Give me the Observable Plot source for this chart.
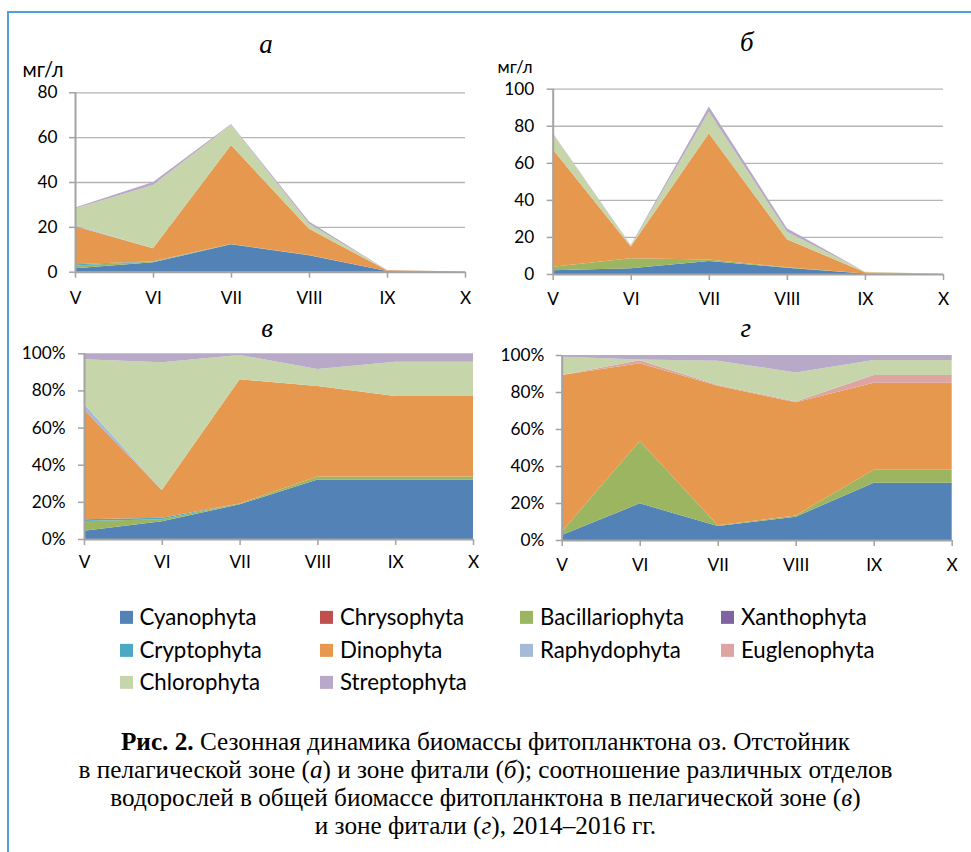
<!DOCTYPE html>
<html>
<head>
<meta charset="utf-8">
<script src="https://cdn.jsdelivr.net/npm/d3@7"></script>
<script src="https://cdn.jsdelivr.net/npm/@observablehq/plot@0.6"></script>
<style>
  html, body { margin: 0; padding: 0; background: #fff; }
  #page { position: relative; width: 971px; height: 852px; overflow: hidden; background: #fff; font-family: Lato, "Open Sans", sans-serif; color: #000; }
  .frame { position: absolute; left: 7px; top: 11px; right: -4px; bottom: -4px; border-left: 2px solid #4d9fe0; border-top: 2px solid #4d9fe0; }
  .abs { position: absolute; white-space: nowrap; }
  .ptitle { font-family: "Liberation Serif", "DejaVu Serif", serif; font-style: italic; font-size: 27px; transform: translate(-50%, -50%); line-height: 1; }
  .unit { transform: translateY(-50%); line-height: 1; }
  .leg { position: absolute; display: flex; align-items: center; transform: translateY(-50%); white-space: nowrap; }
  .sw { width: 13px; height: 13px; display: inline-block; }
  .cap { position: absolute; left: 0; width: 971px; text-align: center; font-family: "Liberation Serif", "DejaVu Serif", serif; white-space: nowrap; transform: translateY(-50%); line-height: 1; }
  .chart svg { overflow: visible; }
</style>
</head>
<body>
<div id="page">
  <div class="frame"></div>
</div>
<script>
// ---------- data ----------
const months = ["V", "VI", "VII", "VIII", "IX", "X"];
const groups = ["Cyanophyta", "Chrysophyta", "Bacillariophyta", "Xanthophyta", "Cryptophyta",
                "Dinophyta", "Raphydophyta", "Euglenophyta", "Chlorophyta", "Streptophyta"];
const colors = ["#5383b6", "#c0504d", "#9bb561", "#8064a2", "#4ba9c3",
                "#e6984f", "#a5bad9", "#dda4a2", "#c6d6aa", "#b9a9c8"];

// а — pelagic zone, mg/L (rows follow `groups`, columns follow `months`)
const pelagicMass = [
  [1.5, 4.2, 12.2, 7.3, 0.3, 0.05],
  [0, 0, 0, 0, 0, 0],
  [1.3, 0.3, 0.2, 0.1, 0, 0],
  [0, 0, 0, 0, 0, 0],
  [0.5, 0.2, 0, 0, 0, 0],
  [17.0, 5.8, 44.1, 11.8, 0.3, 0.05],
  [0.4, 0, 0, 0, 0, 0],
  [0, 0, 0, 0, 0, 0],
  [7.5, 28.2, 9.0, 2.2, 0.1, 0],
  [0.4, 1.3, 0.4, 1.0, 0.05, 0]
];
// б — phytal zone, mg/L
const phytalMass = [
  [2.0, 3.1, 7.0, 3.4, 0.3, 0.05],
  [0, 0, 0, 0, 0, 0],
  [1.9, 5.4, 0.8, 0.2, 0, 0],
  [0, 0, 0, 0, 0, 0],
  [0, 0, 0, 0, 0, 0],
  [63.4, 6.4, 68.1, 15.1, 0.7, 0.05],
  [0, 0, 0, 0, 0, 0],
  [0, 0, 0, 0, 0, 0],
  [8.5, 0.5, 11.7, 4.1, 0.2, 0],
  [0.3, 0.3, 2.8, 1.9, 0.05, 0]
];
// в — pelagic zone, % of total biomass
const pelagicShare = [
  [4.5, 9.5, 18.7, 32.1, 32.1, 32.1],
  [0, 0, 0, 0, 0, 0],
  [5.2, 1.1, 0.4, 1.5, 1.5, 1.5],
  [0, 0, 0, 0, 0, 0],
  [0.9, 0.9, 0, 0, 0, 0],
  [59.2, 14.9, 66.9, 48.8, 43.4, 43.4],
  [2.9, 0, 0, 0, 0, 0],
  [0, 0, 0, 0, 0, 0],
  [24.1, 68.8, 13.1, 9.2, 18.5, 18.5],
  [3.2, 4.8, 0.9, 8.4, 4.5, 4.5]
];
// г — phytal zone, % of total biomass
const phytalShare = [
  [2.7, 19.8, 7.6, 12.6, 31.0, 31.0],
  [0, 0, 0, 0, 0, 0],
  [1.8, 33.7, 0.4, 0.7, 7.0, 7.0],
  [0, 0, 0, 0, 0, 0],
  [0, 0, 0, 0, 0, 0],
  [84.7, 42.0, 75.4, 61.1, 47.0, 47.0],
  [0, 0, 0, 0, 0, 0],
  [0, 1.6, 0.4, 0.5, 4.2, 4.2],
  [9.9, 0.5, 13.1, 15.7, 8.1, 8.1],
  [0.9, 2.4, 3.1, 9.4, 2.7, 2.7]
];
const ticksA = [0, 20, 40, 60, 80];
const ticksB = [0, 20, 40, 60, 80, 100];
const ticksPct = [0, 20, 40, 60, 80, 100];
const panelTitles = ["а", "б", "в", "г"];
const unitLabel = "мг/л";

// ---------- helpers ----------
const ctx = document.createElement("canvas").getContext("2d");
function fitSize(text, target, family, weight = "normal", style = "normal") {
  ctx.font = `${style} ${weight} 100px ${family}`;
  return 100 * target / ctx.measureText(text).width;
}
const sansFam = 'Lato, "Open Sans", sans-serif';
const tickFs = fitSize("80", 20, sansFam);

function toRows(matrix) {
  const rows = [];
  matrix.forEach((vals, g) => vals.forEach((v, i) => rows.push({group: groups[g], i, value: v})));
  return rows;
}

const page = document.getElementById("page");
function place(el, left, top) {
  const d = document.createElement("div");
  d.className = "abs chart";
  d.style.left = left + "px";
  d.style.top = top + "px";
  d.appendChild(el);
  page.appendChild(d);
}

function panel(o) {
  const axisColor = "#a3a3a3";
  return Plot.plot({
    width: o.width, height: o.height,
    marginLeft: o.ml, marginRight: o.mr, marginTop: o.mt, marginBottom: o.mb,
    style: {fontFamily: sansFam, fontSize: tickFs + "px", color: "#000", background: "transparent", overflow: "visible"},
    x: {type: "linear", domain: [0, months.length - 1]},
    y: {domain: [0, o.ticks[o.ticks.length - 1]]},
    color: {domain: groups, range: colors},
    marks: [
      o.grid ? Plot.ruleY(o.ticks.filter(t => t > 0), {stroke: "#b5b5b5", strokeWidth: 1.3}) : null,
      Plot.areaY(toRows(o.data), {x: "i", y: "value", fill: "group", order: groups}),
      Plot.ruleX([0], {stroke: axisColor, strokeWidth: 2}),
      Plot.ruleY([0], {stroke: axisColor, strokeWidth: 2}),
      Plot.axisY({ticks: o.ticks, tickSize: 6, tickPadding: o.ypad, stroke: axisColor, strokeWidth: 1.5, label: null,
                  tickFormat: o.pct ? (d => d + "%") : (d => String(d))}),
      Plot.axisX({ticks: d3.range(months.length), tickSize: 6, tickPadding: o.xpad, stroke: axisColor, strokeWidth: 1.5, label: null,
                  tickFormat: i => months[i]})
    ]
  });
}

// а
place(panel({data: pelagicMass, ticks: ticksA, grid: true, pct: false,
  width: 480, height: 230, ml: 75, mr: 15, mt: 12.3, mb: 38.3, ypad: 12, xpad: 14}), 0, 80);
// б
place(panel({data: phytalMass, ticks: ticksB, grid: true, pct: false,
  width: 480, height: 230, ml: 72.7, mr: 17, mt: 8.7, mb: 36, ypad: 13, xpad: 12}), 480, 80);
// в
place(panel({data: pelagicShare, ticks: ticksPct, grid: false, pct: true,
  width: 480, height: 240, ml: 84, mr: 7, mt: 13.3, mb: 41, ypad: 13, xpad: 10}), 0, 340);
// г
place(panel({data: phytalShare, ticks: ticksPct, grid: false, pct: true,
  width: 491, height: 240, ml: 81.7, mr: 19.3, mt: 15, mb: 40, ypad: 12, xpad: 12}), 480, 340);

// panel titles
[[266, 44], [746.7, 42], [267, 328], [745.7, 328]].forEach(([x, y], k) => {
  const t = document.createElement("div");
  t.className = "abs ptitle";
  t.style.left = x + "px"; t.style.top = y + "px";
  t.textContent = panelTitles[k];
  page.appendChild(t);
});
// unit labels
[[22.5, 69, 41], [497.5, 67, 35]].forEach(([x, y, w]) => {
  const u = document.createElement("div");
  u.className = "abs unit";
  u.style.left = x + "px"; u.style.top = y + "px";
  u.style.fontFamily = sansFam;
  u.style.fontSize = fitSize(unitLabel, w, sansFam) + "px";
  u.textContent = unitLabel;
  page.appendChild(u);
});

// legend
const legFs = fitSize("Cyanophyta", 117, sansFam);
const legCols = [119.5, 320, 520, 721];
const legRows = [617, 650, 682];
groups.forEach((g, k) => {
  const col = k % 4, row = Math.floor(k / 4);
  const item = document.createElement("div");
  item.className = "leg";
  item.style.left = legCols[col] + "px";
  item.style.top = legRows[row] + "px";
  const sw = document.createElement("span");
  sw.className = "sw";
  sw.style.background = colors[k];
  const tx = document.createElement("span");
  tx.textContent = g;
  tx.style.fontFamily = sansFam;
  tx.style.fontSize = legFs + "px";
  tx.style.marginLeft = "7px";
  tx.style.lineHeight = "1";
  item.appendChild(sw); item.appendChild(tx);
  page.appendChild(item);
});

// caption
const serifFam = '"Liberation Serif", "DejaVu Serif", serif';
const capFs = fitSize("в пелагической зоне (а) и зоне фитали (б); соотношение различных отделов", 813, serifFam);
const capLines = [
  '<b>Рис. 2.</b> Сезонная динамика биомассы фитопланктона оз. Отстойник',
  'в пелагической зоне (<i>а</i>) и зоне фитали (<i>б</i>); соотношение различных отделов',
  'водорослей в общей биомассе фитопланктона в пелагической зоне (<i>в</i>)',
  'и зоне фитали (<i>г</i>), 2014–2016 гг.'
];
capLines.forEach((html, k) => {
  const c = document.createElement("div");
  c.className = "cap";
  c.style.top = (742 + k * 28) + "px";
  c.style.fontSize = capFs + "px";
  c.innerHTML = html;
  page.appendChild(c);
});
</script>
</body>
</html>
